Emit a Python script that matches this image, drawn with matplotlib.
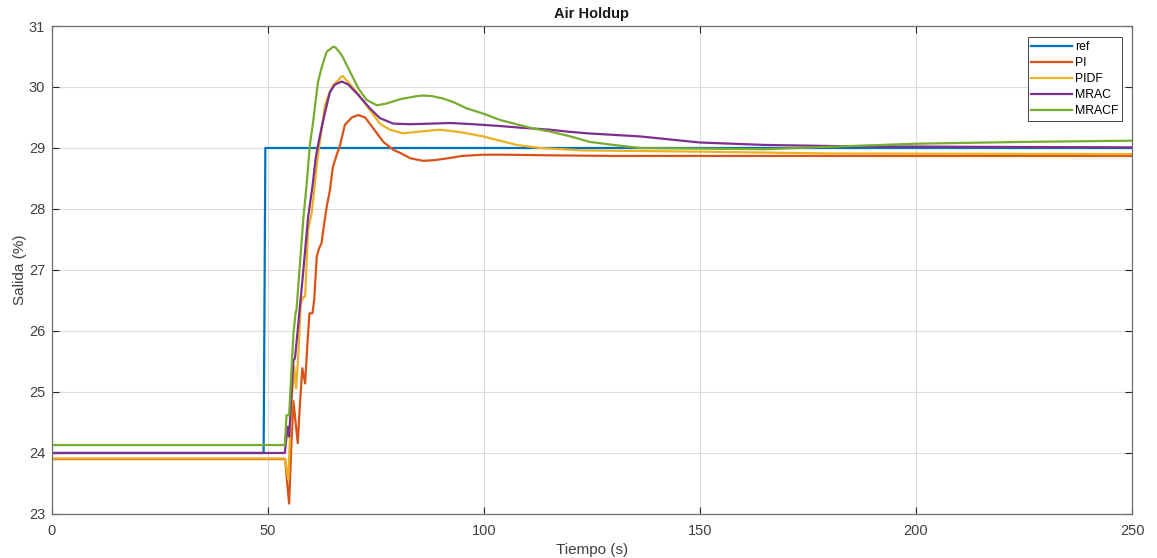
import matplotlib
matplotlib.use("Agg")
import matplotlib.pyplot as plt

plt.rcParams['font.family'] = ['Liberation Sans', 'DejaVu Sans']

# Setpoint step
t_ref = [0, 49.0, 49.4, 250]
y_ref = [24.0, 24.0, 29.0, 29.0]

# PI controller response
t_pi = [0, 54.0, 54.4, 54.9, 55.4, 55.9, 56.4, 56.9, 57.4, 57.95, 58.6, 59.1, 59.6,
        60.3, 60.7, 61.3, 61.8, 62.4, 63.0, 63.6, 64.35, 65.0, 65.6, 66.7, 67.8,
        69.4, 70.9, 72.5, 74.4, 76.7, 79.0, 80.6, 83.0, 85.9, 88.5, 91.5, 95.0,
        99.8, 105, 115, 130, 160, 200, 250]
y_pi = [23.90, 23.90, 23.55, 23.17, 24.10, 24.85, 24.50, 24.16, 24.80, 25.39, 25.14,
        25.75, 26.29, 26.29, 26.51, 27.22, 27.35, 27.44, 27.75, 28.04, 28.31, 28.68,
        28.82, 29.05, 29.38, 29.50, 29.54, 29.50, 29.32, 29.10, 28.97, 28.92, 28.83,
        28.79, 28.80, 28.83, 28.87, 28.89, 28.89, 28.88, 28.87, 28.87, 28.87, 28.87]

# PIDF controller response
t_pidf = [0, 53.9, 54.3, 54.7, 55.1, 55.5, 56.1, 56.5, 56.9, 57.3, 57.6, 58.2, 58.6,
          59.3, 60.1, 60.7, 61.3, 61.8, 62.4, 63.2, 64.1, 65.1, 66.3, 66.8, 67.3,
          68.2, 70.5, 73.6, 75.9, 78.2, 81.3, 85.2, 89.8, 94.5, 99.8, 103.7, 107.6,
          113, 122.9, 150, 180, 250]
y_pidf = [23.91, 23.91, 23.75, 23.56, 24.30, 24.87, 25.41, 25.06, 25.47, 26.00, 26.45,
          26.56, 26.56, 27.66, 27.93, 28.30, 28.72, 29.00, 29.30, 29.70, 29.88, 30.03,
          30.11, 30.16, 30.18, 30.11, 29.92, 29.62, 29.40, 29.30, 29.24, 29.27, 29.30,
          29.26, 29.19, 29.12, 29.05, 29.00, 28.96, 28.94, 28.91, 28.90]

# MRAC response
t_mrac = [0, 53.9, 54.55, 54.9, 55.4, 55.9, 56.25, 56.8, 57.4, 58.2, 58.7, 59.3, 60.3,
          61.1, 61.6, 62.4, 63.2, 63.6, 64.35, 65.5, 67.1, 68.6, 70.9, 73.6, 75.9,
          79.0, 82.9, 88.0, 92.1, 97.5, 103.7, 109, 115.3, 119.1, 124, 136.1, 150,
          165, 182.4, 210, 250]
y_mrac = [24.00, 24.00, 24.43, 24.27, 24.90, 25.52, 25.55, 25.95, 26.40, 27.00, 27.40,
          27.87, 28.37, 28.86, 29.05, 29.33, 29.58, 29.70, 29.92, 30.04, 30.09, 30.04,
          29.87, 29.65, 29.49, 29.40, 29.39, 29.40, 29.41, 29.39, 29.36, 29.33, 29.30,
          29.27, 29.24, 29.19, 29.09, 29.05, 29.03, 29.02, 29.01]

# MRACF response
t_mracf = [0, 53.9, 54.3, 54.9, 55.4, 55.9, 56.4, 56.6, 57.4, 58.2, 58.95, 59.7, 60.5,
           61.0, 61.6, 62.4, 63.0, 63.6, 64.4, 65.1, 65.6, 66.2, 67.1, 69.0, 70.9,
           72.8, 75.2, 77.5, 80.6, 84.4, 85.9, 88.0, 90.6, 93.0, 96.0, 100, 103.7,
           107.5, 111.4, 115.3, 120, 124.5, 130, 136.1, 150, 165, 180, 200, 225, 250]
y_mracf = [24.13, 24.13, 24.62, 24.62, 25.30, 25.96, 26.30, 26.34, 27.10, 27.85, 28.40,
           29.05, 29.45, 29.75, 30.09, 30.31, 30.45, 30.58, 30.62, 30.66, 30.65, 30.60,
           30.52, 30.25, 29.98, 29.79, 29.70, 29.73, 29.80, 29.85, 29.86, 29.85, 29.81,
           29.75, 29.65, 29.56, 29.46, 29.39, 29.32, 29.27, 29.19, 29.10, 29.05, 29.00,
           28.99, 28.98, 29.02, 29.07, 29.10, 29.12]

series = [
    ("ref", t_ref, y_ref, "#0072BD"),
    ("PI", t_pi, y_pi, "#D95319"),
    ("PIDF", t_pidf, y_pidf, "#EDB120"),
    ("MRAC", t_mrac, y_mrac, "#7E2F8E"),
    ("MRACF", t_mracf, y_mracf, "#77AC30"),
]

x_ticks = [0, 50, 100, 150, 200, 250]
y_ticks = [23, 24, 25, 26, 27, 28, 29, 30, 31]

fig = plt.figure(figsize=(11.57, 5.58), dpi=100)
ax = fig.add_axes([0.0449, 0.0789, 0.9335, 0.8745])

for name, t, y, c in series:
    ax.plot(t, y, color=c, lw=1.6, label=name)

ax.set_xlim(0, 250)
ax.set_ylim(23, 31)
ax.set_xticks(x_ticks)
ax.set_yticks(y_ticks)
ax.grid(True, color="#dcdcdc", lw=0.8)
ax.set_axisbelow(True)

for s in ax.spines.values():
    s.set_color("#6e6e6e")
    s.set_linewidth(0.9)
ax.tick_params(direction="in", length=5, width=0.8, color="#262626",
               labelcolor="#404040", labelsize=10.5, top=True, right=True)
ax.tick_params(axis="x", pad=7)
ax.tick_params(axis="y", pad=5)

ax.set_title("Air Holdup", fontsize=10.5, fontweight="bold", color="#1a1a1a", pad=6)
ax.set_xlabel("Tiempo (s)", fontsize=11, color="#404040", labelpad=4)
ax.set_ylabel("Salida (%)", fontsize=11, color="#404040", labelpad=1)

leg = ax.legend(loc="upper right", bbox_to_anchor=(0.9907, 0.977), borderaxespad=0,
                fontsize=8.8, handlelength=3.35, handletextpad=0.2,
                labelspacing=0.33, borderpad=0.3, fancybox=False, framealpha=1)
leg.get_frame().set_edgecolor("#262626")
leg.get_frame().set_linewidth(0.6)

fig.savefig("out.png", dpi=100)
